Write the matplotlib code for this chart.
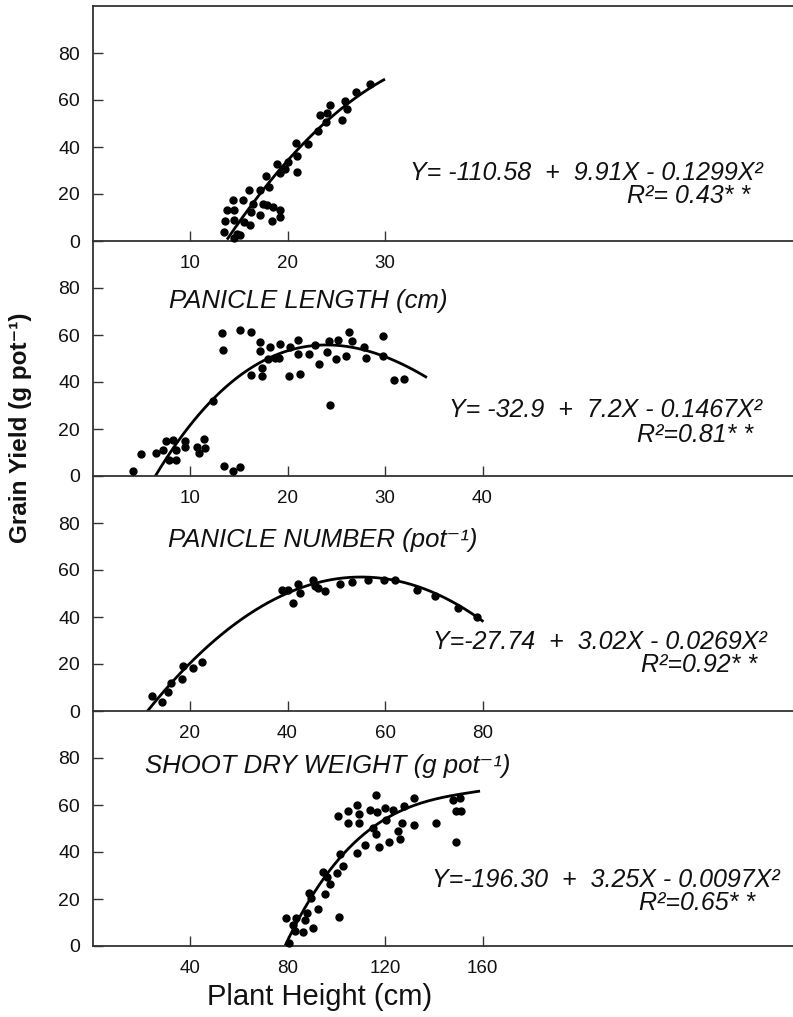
import numpy as np
import matplotlib
matplotlib.use("Agg")
import matplotlib.pyplot as plt

plt.rcParams['font.family'] = ['Liberation Sans', 'DejaVu Sans']

# ---------------- data ----------------
# Panel 1: panicle length (cm) vs grain yield
pl_x = [13.5, 13.6, 13.8, 14.4, 14.5, 14.5, 14.8, 14.5, 15.1, 15.4, 15.5, 16.0, 16.2, 16.3, 16.5,
        17.2, 17.2, 17.5, 17.8, 18.1, 17.9, 18.4, 18.5, 18.9, 19.2, 19.2, 19.2, 19.7, 20.1, 20.9,
        21.0, 21.0, 22.1, 23.1, 23.3, 24.0, 24.4, 23.9, 25.6, 25.9, 26.1, 27.0, 28.5]
pl_y = [3.8, 8.5, 13.0, 17.3, 13.3, 8.8, 3.1, 1.1, 2.4, 17.3, 8.0, 21.6, 6.6, 12.3, 15.6,
        21.9, 10.9, 15.9, 27.6, 23.0, 15.2, 8.5, 14.5, 32.6, 28.8, 13.3, 10.2, 30.5, 33.5, 41.8,
        36.1, 29.4, 41.3, 47.0, 53.7, 54.4, 57.9, 50.5, 51.3, 59.5, 56.3, 63.4, 66.6]
pl_curve_x = [13.8, 15.8, 17.9, 20.6, 23.3, 26.1, 30.0]
pl_curve_y = [0.0, 13.0, 24.5, 36.6, 48.0, 58.0, 69.1]

# Panel 2: panicle number (pot-1)
pn_x = [4.2, 5.0, 6.5, 7.2, 7.5, 7.8, 8.3, 8.6, 8.6, 9.5, 9.5, 10.7, 10.9, 11.4, 11.5,
        12.4, 13.3, 13.4, 13.5, 14.4, 15.1, 15.1, 16.3, 16.3, 17.2, 17.2, 17.4, 17.4, 18.0, 18.2,
        18.7, 19.1, 19.2, 20.2, 20.3, 21.1, 21.1, 21.3, 22.2, 22.8, 23.2, 24.0, 24.3, 24.4, 25.0,
        25.2, 26.0, 26.3, 26.6, 27.8, 28.1, 29.8, 29.8, 30.9, 31.9]
pn_y = [2.3, 9.3, 9.7, 10.9, 15.1, 6.6, 15.4, 10.9, 6.6, 15.1, 12.3, 12.3, 9.7, 15.7, 11.9,
        31.9, 60.7, 53.6, 4.4, 2.3, 4.0, 62.1, 61.4, 42.9, 56.9, 53.0, 46.1, 42.6, 49.7, 55.1,
        50.4, 50.4, 56.1, 42.6, 54.7, 57.9, 51.9, 43.6, 51.9, 55.7, 47.6, 52.6, 57.6, 30.4, 49.7,
        57.9, 50.9, 61.4, 57.3, 55.1, 50.4, 59.7, 51.1, 40.7, 41.4]
pn_curve_x = [6.4, 8.9, 12.4, 15.8, 19.2, 22.6, 26.1, 29.5, 34.3]
pn_curve_y = [0.0, 15.4, 31.9, 45.4, 52.6, 55.4, 55.1, 51.1, 42.1]

# Panel 3: shoot dry weight (g pot-1)
sw_x = [12.3, 14.2, 15.4, 16.0, 18.3, 18.5, 20.7, 22.4, 38.8, 40.2, 41.2, 42.2, 42.6,
        45.3, 45.6, 46.3, 47.7, 50.8, 53.2, 56.6, 59.7, 62.1, 66.6, 70.3, 75.0, 78.8]
sw_y = [6.2, 3.8, 8.1, 11.9, 13.8, 19.0, 18.3, 20.9, 51.3, 51.6, 46.0, 53.9, 50.2,
        55.6, 53.0, 52.5, 50.9, 53.9, 54.9, 55.6, 55.6, 55.6, 51.3, 48.8, 44.0, 40.0]
sw_curve_x = [11.1, 17.9, 24.8, 31.6, 38.5, 45.3, 52.1, 59.0, 65.8, 72.7, 80.2]
sw_curve_y = [0.0, 15.5, 29.0, 40.0, 49.9, 54.5, 56.5, 56.6, 53.5, 47.0, 38.5]

# Panel 4: plant height (cm)
ph_x = [80.7, 79.4, 82.4, 83.5, 83.1, 86.5, 87.2, 87.9, 90.6, 89.0, 89.5, 92.6, 95.4, 94.7, 96.1,
        97.4, 100.4, 101.3, 101.5, 102.9, 100.8, 104.9, 104.9, 108.4, 109.5, 109.5, 108.6, 111.8,
        113.8, 116.3, 116.8, 115.2, 116.3, 117.7, 120.0, 120.4, 121.8, 123.4, 125.5, 126.2, 126.9,
        127.8, 131.9, 132.0, 140.9, 148.0, 150.8, 149.1, 151.2, 149.1]
ph_y = [1.1, 11.8, 8.9, 11.8, 6.5, 6.1, 11.1, 13.9, 7.5, 22.4, 20.3, 15.6, 22.1, 31.6, 29.5,
        26.4, 30.9, 12.5, 39.0, 34.0, 55.5, 57.4, 52.2, 60.0, 56.2, 52.2, 39.4, 43.0,
        57.9, 64.3, 57.2, 50.1, 47.5, 42.0, 58.7, 53.6, 44.1, 57.9, 49.1, 45.4, 52.2,
        59.7, 51.5, 62.8, 52.2, 62.1, 62.8, 57.6, 57.6, 44.4]
ph_curve_x = [79.0, 83.8, 89.2, 96.1, 102.9, 109.7, 120.0, 130.3, 141.2, 150.8, 159.0]
ph_curve_y = [0.0, 8.9, 21.0, 31.6, 39.4, 45.1, 52.9, 59.3, 63.5, 65.0, 65.4]

x_ticks = [[10, 20, 30], [10, 20, 30, 40], [20, 40, 60, 80], [40, 80, 120, 160]]
y_ticks = [0, 20, 40, 60, 80]

titles = ["PANICLE LENGTH (cm)", "PANICLE NUMBER (pot\u207b\u00b9)", "SHOOT DRY WEIGHT (g pot\u207b\u00b9)"]
equations = ["Y= -110.58  +  9.91X - 0.1299X\u00b2",
             "Y= -32.9  +  7.2X - 0.1467X\u00b2",
             "Y=-27.74  +  3.02X - 0.0269X\u00b2",
             "Y=-196.30  +  3.25X - 0.0097X\u00b2"]
r2_texts = ["R\u00b2= 0.43* *", "R\u00b2=0.81* *", "R\u00b2=0.92* *", "R\u00b2=0.65* *"]

# ---------------- layout ----------------
W, H = 793, 1017
fig = plt.figure(figsize=(W / 100, H / 100), dpi=100)

def fx(px):
    return px / W

def fy(py):
    return 1 - py / H

left_px = 92.5
top_px = 6
panel_h = 235
unit_px = [9.75, 9.75, 4.875, 2.4375]

panels = [(pl_x, pl_y, pl_curve_x, pl_curve_y, 2),
          (pn_x, pn_y, pn_curve_x, pn_curve_y, 3),
          (sw_x, sw_y, sw_curve_x, sw_curve_y, 3),
          (ph_x, ph_y, ph_curve_x, ph_curve_y, 3)]

spine_col = '#333333'
for i, (xs, ys, cx, cy, deg) in enumerate(panels):
    top = top_px + panel_h * i
    bottom = top + panel_h
    ax = fig.add_axes([fx(left_px), fy(bottom), 1 - fx(left_px), panel_h / H])
    ax.set_xlim(0, (W - left_px) / unit_px[i])
    ax.set_ylim(0, 100)
    ax.plot(xs, ys, 'o', color='black', ms=5.0, mec='black', clip_on=False, zorder=3)
    coef = np.polyfit(cx, cy, deg)
    xx = np.linspace(cx[0], cx[-1], 200)
    ax.plot(xx, np.polyval(coef, xx), color='black', lw=2.0, solid_capstyle='butt', zorder=2)
    ax.spines['right'].set_visible(False)
    ax.spines['top'].set_visible(i == 0)
    for s in ['left', 'bottom', 'top']:
        ax.spines[s].set_color(spine_col)
        ax.spines[s].set_linewidth(1.3)
    ax.set_xticks(x_ticks[i])
    ax.set_yticks(y_ticks)
    ax.tick_params(axis='x', direction='in', length=7, width=1.0, color=spine_col,
                   labelsize=13.5, pad=10, labelcolor='#111111')
    ax.tick_params(axis='y', direction='in', length=7, width=1.0, color=spine_col,
                   labelsize=14, pad=9, labelcolor='#111111')
    ax.patch.set_alpha(0)

# panel titles (x-axis labels of the panels above)
title_pos = [(169, 301), (168, 540), (145, 766)]
for t, (px, py) in zip(titles, title_pos):
    fig.text(fx(px), fy(py), t, ha='left', va='center', fontsize=18.5, style='italic',
             color='#111111')

eq_pos = [(763, 173), (762, 410), (767, 642), (780, 880)]
r2_pos = [(750, 196), (753, 435), (757, 665), (755, 903)]
for t, (px, py) in zip(equations, eq_pos):
    fig.text(fx(px), fy(py), t, ha='right', va='center', fontsize=18, style='italic',
             color='#111111')
for t, (px, py) in zip(r2_texts, r2_pos):
    fig.text(fx(px), fy(py), t, ha='right', va='center', fontsize=18, style='italic',
             color='#111111')

fig.text(fx(320), fy(997), "Plant Height (cm)", ha='center', va='center', fontsize=21,
         color='#111111')
fig.text(fx(21), fy(428), "Grain Yield (g pot\u207b\u00b9)", ha='center', va='center',
         rotation=90, fontsize=17.5, fontweight='bold', color='#111111')

fig.savefig("out.png", dpi=100)
